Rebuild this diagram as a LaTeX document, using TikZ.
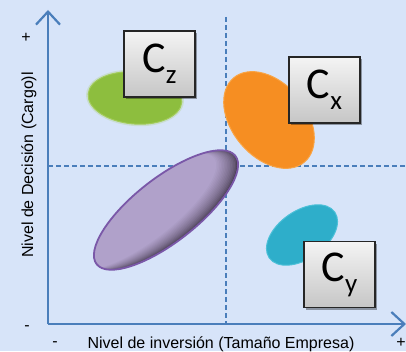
\documentclass[tikz,border=0pt]{standalone}
\usepackage{fontspec}
\setmainfont{Liberation Sans}
\newfontfamily\calib{Carlito}
\usetikzlibrary{arrows.meta,shadows}

\definecolor{bgblue}{HTML}{D7E4F9}
\definecolor{axisblue}{HTML}{4A7EBB}
\definecolor{grn}{HTML}{8DBE3E}
\definecolor{grnedge}{HTML}{A3CC5A}
\definecolor{org}{HTML}{F68E22}
\definecolor{orgedge}{HTML}{F9A445}
\definecolor{cyn}{HTML}{2EAECA}
\definecolor{cynedge}{HTML}{4CC0D8}
\definecolor{lav}{HTML}{B0A1CA}
\definecolor{lavdark}{HTML}{463B50}
\definecolor{lavedge}{HTML}{7A58A8}
\definecolor{boxtop}{HTML}{F4F4F4}
\definecolor{boxbot}{HTML}{C6C6C6}

\tikzset{
  axisline/.style={draw=axisblue, line width=2.6pt,
    -{Straight Barb[length=13pt,width=24pt,line width=2.2pt]}},
  guide/.style={draw=axisblue, line width=1.3pt, dash pattern=on 5pt off 3pt},
  tick/.style={font=\fontsize{16}{18}\selectfont},
  axlabel/.style={font=\fontsize{16}{18}\selectfont, inner sep=0pt},
  cbox/.style={draw=black!85, line width=1.6pt, top color=boxtop, bottom color=boxbot,
    minimum width=71pt, minimum height=66pt, inner sep=0pt,
    font=\calib\fontsize{44}{46}\selectfont,
    drop shadow={shadow xshift=2pt, shadow yshift=-2pt, opacity=0.35, fill=black}},
}

\begin{document}
\begin{tikzpicture}[x=1pt,y=1pt]
  % canvas
  \fill[bgblue] (0,0) rectangle (406,351);
  \useasboundingbox (0,0) rectangle (406,351);

  % axes anchors
  \coordinate (o) at (48,27);
  \coordinate (ytop) at (48,341);
  \coordinate (xend) at (406,27);
  \coordinate (hl) at (48,185);
  \coordinate (hr) at (406,185);
  \coordinate (vt) at (226,334);
  \coordinate (vb) at (226,27);

  % quadrant guides
  \draw[guide] (hl) -- (hr);
  \draw[guide] (vt) -- (vb);

  % clusters
  \fill[grnedge, opacity=0.25] (135,253) ellipse [x radius=49, y radius=28, rotate=-5];
  \fill[grn, draw=grnedge, line width=1pt] (135,253) ellipse [x radius=47, y radius=26, rotate=-5];

  \fill[org, draw=orgedge, line width=1pt] (269,231) ellipse [x radius=55, y radius=37, rotate=-50];

  \fill[cyn, draw=cynedge, line width=1pt] (302,116) ellipse [x radius=40, y radius=24, rotate=35];

  % large cluster: lit from the upper left, shadowed along its lower right rim
  \begin{scope}[shift={(166,141)}, rotate=38]
    \clip (0,0) ellipse [x radius=88, y radius=32];
    \fill[lavdark] (-100,-40) rectangle (100,40);
    \foreach \i in {1,...,14} {
      \pgfmathsetmacro{\p}{100*(\i/14)^0.6}
      \fill[lav!\p!lavdark] (-1.2*\i,0.8*\i) ellipse [x radius=88-0.1*\i, y radius=32-0.3*\i];
    }
  \end{scope}
  \draw[lavedge, line width=1.8pt] (166,141) ellipse [x radius=88, y radius=32, rotate=38];

  % axes
  \draw[axisline] (o) -- (ytop);
  \draw[axisline] (o) -- (xend);

  % axis ticks and labels
  \node[tick] (yplus) at (26,313) {+};
  \node[tick] (yminus) at (27,23) {-};
  \node[tick] (xminus) at (55,7) {-};
  \node[tick] (xplus) at (401,8) {+};
  \node[axlabel, anchor=base] (xlab) at (221,3) {Nivel de inversión (Tamaño Empresa)};
  \node[axlabel, anchor=base, rotate=90] (ylab) at (33,186) {Nivel de Decisión (Cargo)l};

  % cluster labels
  \node[cbox] (cz) at (159.5,287) {C\raisebox{-0.25em}{\fontsize{27}{27}\selectfont z}};
  \node[cbox] (cx) at (324.5,261) {C\raisebox{-0.25em}{\fontsize{27}{27}\selectfont x}};
  \node[cbox] (cy) at (339.5,76.5) {C\raisebox{-0.25em}{\fontsize{27}{27}\selectfont y}};
\end{tikzpicture}
\end{document}
